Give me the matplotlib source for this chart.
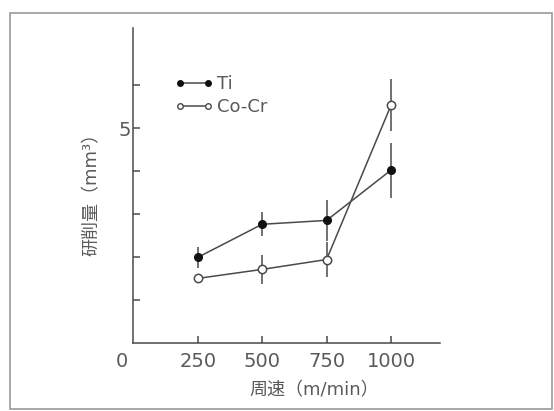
import numpy as np
import matplotlib
matplotlib.use('Agg')
from matplotlib import pyplot as plt
from matplotlib.lines import Line2D

plt.rcParams['font.family'] = ['DejaVu Sans', 'Noto Sans CJK JP']

# data
speed = [250, 500, 750, 1000]
ti_mean = [2.0, 2.77, 2.86, 4.03]
ti_err = [0.25, 0.28, 0.47, 0.64]
cocr_mean = [1.51, 1.72, 1.95, 5.54]
cocr_err = [0.0, 0.33, 0.40, 0.60]
xticks = [250, 500, 750, 1000]
yticks = [1, 2, 3, 4, 5, 6]
ytick_labels = ['', '', '', '', '5', '']

ink = '#4a4a4a'
txt = '#5a5a5a'

fig = plt.figure(figsize=(5.54, 4.11), dpi=100)
fig.patch.set_facecolor('white')
ax = fig.add_axes([0.2406, 0.1647, 0.5536, 0.7664])

ax.errorbar(speed, ti_mean, yerr=ti_err, color=ink, lw=1.1, elinewidth=1.1,
            capsize=0, marker='o', ms=5.5, mfc='#111111', mec='#111111', zorder=3)
ax.errorbar(speed, cocr_mean, yerr=cocr_err, color=ink, lw=1.1, elinewidth=1.1,
            capsize=0, marker='o', ms=6, mfc='white', mec=ink, mew=1.1, zorder=4)

ax.set_xlim(0, 1190)
ax.set_ylim(0, 7.33)
ax.set_xticks(xticks)
ax.set_yticks(yticks)
ax.set_yticklabels(ytick_labels)
for s in ['top', 'right']:
    ax.spines[s].set_visible(False)
for s in ['left', 'bottom']:
    ax.spines[s].set_color(ink)
    ax.spines[s].set_linewidth(1.1)
ax.tick_params(direction='in', length=5, width=1.1, color=ink, labelcolor=txt, labelsize=14)
ax.tick_params(axis='x', pad=6)
ax.tick_params(axis='y', pad=2)

# origin label sits left of the axis
ax.annotate('0', xy=(-44, 0), xycoords=('data', 'axes fraction'), xytext=(0, -6),
            textcoords='offset points', ha='center', va='top', fontsize=14, color=txt)

fig.text(314 / 554, 1 - 390 / 411, '周速（m/min）', ha='center', va='center', fontsize=13, color=txt)
fig.text(92 / 554, 1 - 190 / 411, '研削量（mm³）', ha='center', va='center', rotation=90,
         fontsize=13, color=txt)

handles = [Line2D([], [], color=ink, lw=1.1, marker='o', ms=4, mfc='#111111', mec='#111111'),
           Line2D([], [], color=ink, lw=1.1, marker='o', ms=4, mfc='white', mec=ink, mew=1.0)]
leg = ax.legend(handles, ['Ti', 'Co-Cr'], loc='upper left', bbox_to_anchor=(175 / 554, 1 - 75 / 411),
                bbox_transform=fig.transFigure, frameon=False, numpoints=2,
                borderpad=0, borderaxespad=0, handlelength=2.1, handletextpad=0.25,
                labelspacing=0.3, fontsize=13)
for t in leg.get_texts():
    t.set_color(txt)

# outer frame of the figure
frame = plt.Rectangle((10 / 554, 2 / 411), 542 / 554, 396 / 411, transform=fig.transFigure,
                      fill=False, edgecolor='#9a9a9a', lw=1.2)
fig.patches.append(frame)

plt.savefig('out.png', dpi=100)
plt.close()
